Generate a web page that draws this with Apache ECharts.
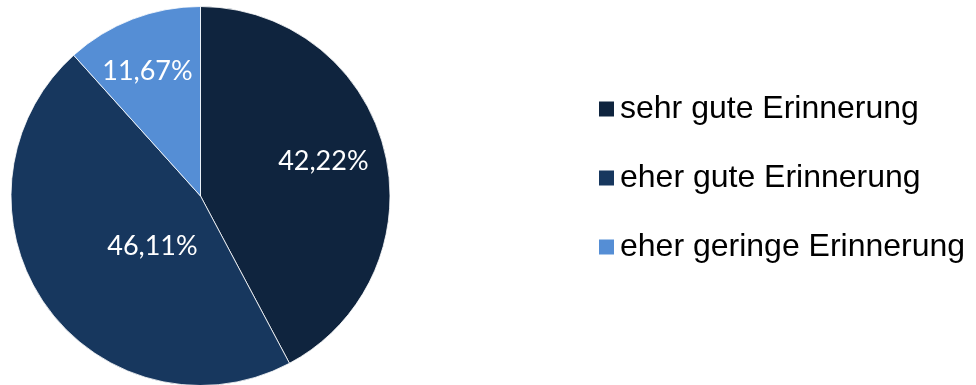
<!DOCTYPE html>
<html>
<head>
<meta charset="utf-8">
<script src="https://cdn.jsdelivr.net/npm/echarts@6/dist/echarts.min.js"></script>
<style>
  html, body { margin: 0; padding: 0; background: #ffffff; }
  #chart { width: 976px; height: 385px; }
</style>
</head>
<body>
<div id="chart"></div>
<script>
// Answer categories and their shares (percent)
const categories = ['sehr gute Erinnerung', 'eher gute Erinnerung', 'eher geringe Erinnerung'];
const shares = [42.22, 46.11, 11.67];
const sliceColors = ['#0F243E', '#17375E', '#558ED5'];
// Nudges of the percentage labels away from the default mid-radius spot
const labelOffsets = [[28, -11], [32, -6], [-18, -33]];

const chart = echarts.init(document.getElementById('chart'), null, { renderer: 'canvas' });

const data = categories.map((name, i) => ({
  name,
  value: shares[i],
  itemStyle: { color: sliceColors[i] },
  label: { offset: labelOffsets[i] }
}));

chart.setOption({
  animation: false,
  legend: {
    orient: 'vertical',
    left: 592,
    top: 88,
    padding: 5,
    icon: 'rect',
    itemWidth: 17,
    itemHeight: 17,
    itemGap: 37,
    textStyle: {
      fontFamily: '"Liberation Sans", Arial, sans-serif',
      fontSize: 32,
      color: '#000000'
    },
    data: categories
  },
  series: [{
    type: 'pie',
    center: [200.5, 196],
    radius: [0, 189.5],
    startAngle: 90,
    clockwise: true,
    avoidLabelOverlap: false,
    itemStyle: { borderColor: '#ffffff', borderWidth: 0.8 },
    label: {
      show: true,
      position: 'inside',
      color: '#ffffff',
      fontFamily: 'Lato, "Open Sans", sans-serif',
      fontSize: 27,
      formatter: p => p.value.toFixed(2).replace('.', ',') + '%'
    },
    labelLine: { show: false },
    emphasis: { disabled: true },
    data
  }]
});
</script>
</body>
</html>
